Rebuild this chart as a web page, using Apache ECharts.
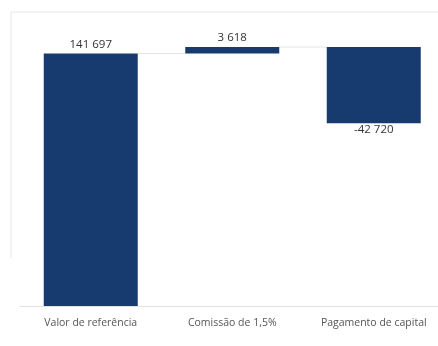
<!DOCTYPE html>
<html>
<head>
<meta charset="utf-8">
<script src="https://cdn.jsdelivr.net/npm/echarts@6/dist/echarts.min.js"></script>
<style>
  html, body { margin: 0; padding: 0; background: #fff; overflow: hidden; }
  /* the plot runs slightly past the right edge of the window */
  #chart { width: 445px; height: 346px; }
</style>
</head>
<body>
<div id="chart"></div>
<script>
// Waterfall: reference value, fee, capital payment
const categories = ['Valor de referência', 'Comissão de 1,5%', 'Pagamento de capital'];
const changes = [141697, 3618, -42720];

// running totals give each bar's floor and ceiling
const bases = [];
const heights = [];
const tops = [];
let running = 0;
changes.forEach((v, i) => {
  const start = i === 0 ? 0 : running;
  const end = i === 0 ? v : running + v;
  bases.push(Math.min(start, end));
  heights.push(Math.abs(end - start));
  tops.push(end);
  running = end;
});

const fmt = v => {
  const s = Math.abs(v).toString().replace(/\B(?=(\d{3})+(?!\d))/g, ' ');
  return (v < 0 ? '-' : '') + s;
};

const barColor = '#173a6f';
const chart = echarts.init(document.getElementById('chart'));

chart.setOption({
  animation: false,
  grid: { left: 20, right: 0.5, top: 12, bottom: 40 },
  xAxis: {
    type: 'category',
    data: categories,
    axisTick: { show: false },
    axisLine: { lineStyle: { color: '#e2e2e2' } },
    axisLabel: {
      interval: 0,
      hideOverlap: false,
      color: '#555',
      fontFamily: 'Open Sans',
      fontSize: 10.5,
      margin: 12
    }
  },
  yAxis: {
    type: 'value',
    min: 0,
    max: 165000,
    show: false,
    splitLine: { show: false }
  },
  graphic: [
    { type: 'line', shape: { x1: 11, y1: 12, x2: 438, y2: 12 }, style: { stroke: '#e6e6e6', lineWidth: 1 } },
    { type: 'line', shape: { x1: 11, y1: 12, x2: 11, y2: 258 }, style: { stroke: '#e6e6e6', lineWidth: 1 } }
  ],
  series: [
    {
      type: 'bar',
      stack: 'w',
      data: bases,
      itemStyle: { color: 'transparent' },
      barWidth: 94,
      silent: true
    },
    {
      type: 'bar',
      stack: 'w',
      barWidth: 94,
      data: heights.map((h, i) => ({
        value: h,
        label: {
          show: true,
          position: changes[i] < 0 ? 'bottom' : 'top',
          distance: changes[i] < 0 ? 1 : 3,
          formatter: () => fmt(changes[i])
        }
      })),
      itemStyle: { color: barColor },
      label: { color: '#333', fontFamily: 'Open Sans', fontSize: 11.5 }
    },
    {
      // thin connectors between consecutive bars at the running total
      type: 'custom',
      data: tops.slice(0, -1).map((t, i) => [i, t]),
      z: 1,
      renderItem: (params, api) => {
        const i = api.value(0);
        const t = api.value(1);
        const a = api.coord([i, t]);
        const b = api.coord([i + 1, t]);
        const half = 47;
        return {
          type: 'line',
          shape: { x1: a[0] + half, y1: a[1], x2: b[0] - half, y2: b[1] },
          style: { stroke: '#e4e4e4', lineWidth: 1 }
        };
      }
    }
  ]
});
</script>
</body>
</html>
